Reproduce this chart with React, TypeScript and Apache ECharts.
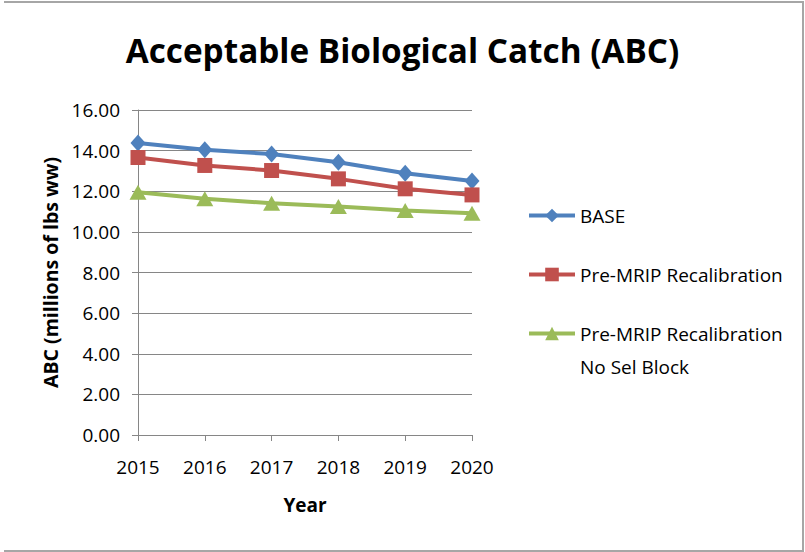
import React, { useEffect, useRef } from "react";
import * as echarts from "echarts";

const years = ["2015", "2016", "2017", "2018", "2019", "2020"];
const baseValues = [14.37, 14.04, 13.83, 13.43, 12.89, 12.51];
const preMripValues = [13.66, 13.27, 13.02, 12.61, 12.12, 11.82];
const noSelBlockValues = [11.95, 11.63, 11.41, 11.25, 11.05, 10.92];

const seriesNames = ["BASE", "Pre-MRIP Recalibration", "Pre-MRIP Recalibration No Sel Block"];
const thirdLegendText = "\nPre-MRIP Recalibration\nNo Sel Block";
const titleText = "Acceptable Biological Catch (ABC)";
const yAxisName = "ABC (millions of lbs ww)";
const xAxisName = "Year";

const FONT = "'Open Sans', 'Noto Sans', sans-serif";
const AXIS_GRAY = "#868686";

export default function App() {
  const ref = useRef<HTMLDivElement>(null);
  useEffect(() => {
    if (!ref.current) return;
    const chart = echarts.init(ref.current, undefined, { renderer: "svg" });
    const textBase = { fontFamily: FONT, color: "#000" };
    chart.setOption({
      animation: false,
      backgroundColor: "#fff",
      title: {
        text: titleText,
        left: "center",
        top: 33,
        padding: 0,
        textStyle: { ...textBase, fontSize: 33.3, fontWeight: "bold" },
      },
      grid: { left: 138, right: 333, top: 110, bottom: 117 },
      legend: [
        {
          orient: "vertical",
          left: 527,
          top: 205,
          padding: 0,
          itemWidth: 46,
          itemHeight: 17,
          itemGap: 38,
          lineStyle: { width: 4 },
          textStyle: { ...textBase, fontSize: 19, lineHeight: 21 },
          data: [seriesNames[0], seriesNames[1]],
        },
        {
          orient: "vertical",
          left: 527,
          top: 284,
          padding: 0,
          itemWidth: 46,
          itemHeight: 17,
          lineStyle: { width: 4 },
          textStyle: { ...textBase, fontSize: 19, lineHeight: 33 },
          formatter: () => thirdLegendText,
          data: [seriesNames[2]],
        },
      ],
      xAxis: {
        type: "category",
        data: years,
        boundaryGap: false,
        name: xAxisName,
        nameLocation: "middle",
        nameGap: 60,
        nameTextStyle: { ...textBase, fontSize: 19, fontWeight: "bold" },
        axisLine: { lineStyle: { color: AXIS_GRAY, width: 1 } },
        axisTick: { alignWithLabel: true, length: 6, lineStyle: { color: AXIS_GRAY } },
        axisLabel: { ...textBase, fontSize: 19, margin: 22 },
        splitLine: { show: false },
      },
      yAxis: {
        type: "value",
        min: 0,
        max: 16,
        interval: 2,
        name: yAxisName,
        nameLocation: "middle",
        nameGap: 78,
        nameTextStyle: { ...textBase, fontSize: 19.5, fontWeight: "bold" },
        axisLine: { show: true, lineStyle: { color: AXIS_GRAY, width: 1 } },
        axisTick: { show: true, length: 6, lineStyle: { color: AXIS_GRAY } },
        axisLabel: { ...textBase, fontSize: 19, margin: 18, formatter: (v: number) => v.toFixed(2) },
        splitLine: { lineStyle: { color: AXIS_GRAY, width: 1 } },
      },
      series: [
        {
          name: seriesNames[0],
          type: "line",
          data: baseValues,
          symbol: "diamond",
          symbolSize: [15, 17],
          lineStyle: { color: "#4F81BD", width: 4 },
          itemStyle: { color: "#4F81BD" },
        },
        {
          name: seriesNames[1],
          type: "line",
          data: preMripValues,
          symbol: "rect",
          symbolSize: 15,
          lineStyle: { color: "#C0504D", width: 4 },
          itemStyle: { color: "#C0504D" },
        },
        {
          name: seriesNames[2],
          type: "line",
          data: noSelBlockValues,
          symbol: "triangle",
          symbolSize: [17, 15],
          lineStyle: { color: "#9BBB59", width: 4 },
          itemStyle: { color: "#9BBB59" },
        },
      ],
      graphic: [
        {
          type: "polyline",
          shape: { points: [[4, 2], [803, 2], [803, 551], [4, 551]] },
          style: { stroke: "#a6a6a6", lineWidth: 2, fill: "none" },
          silent: true,
        },
      ],
    });
    return () => chart.dispose();
  }, []);
  return <div ref={ref} style={{ position: "fixed", left: 0, top: 0, width: 805, height: 552 }} />;
}
